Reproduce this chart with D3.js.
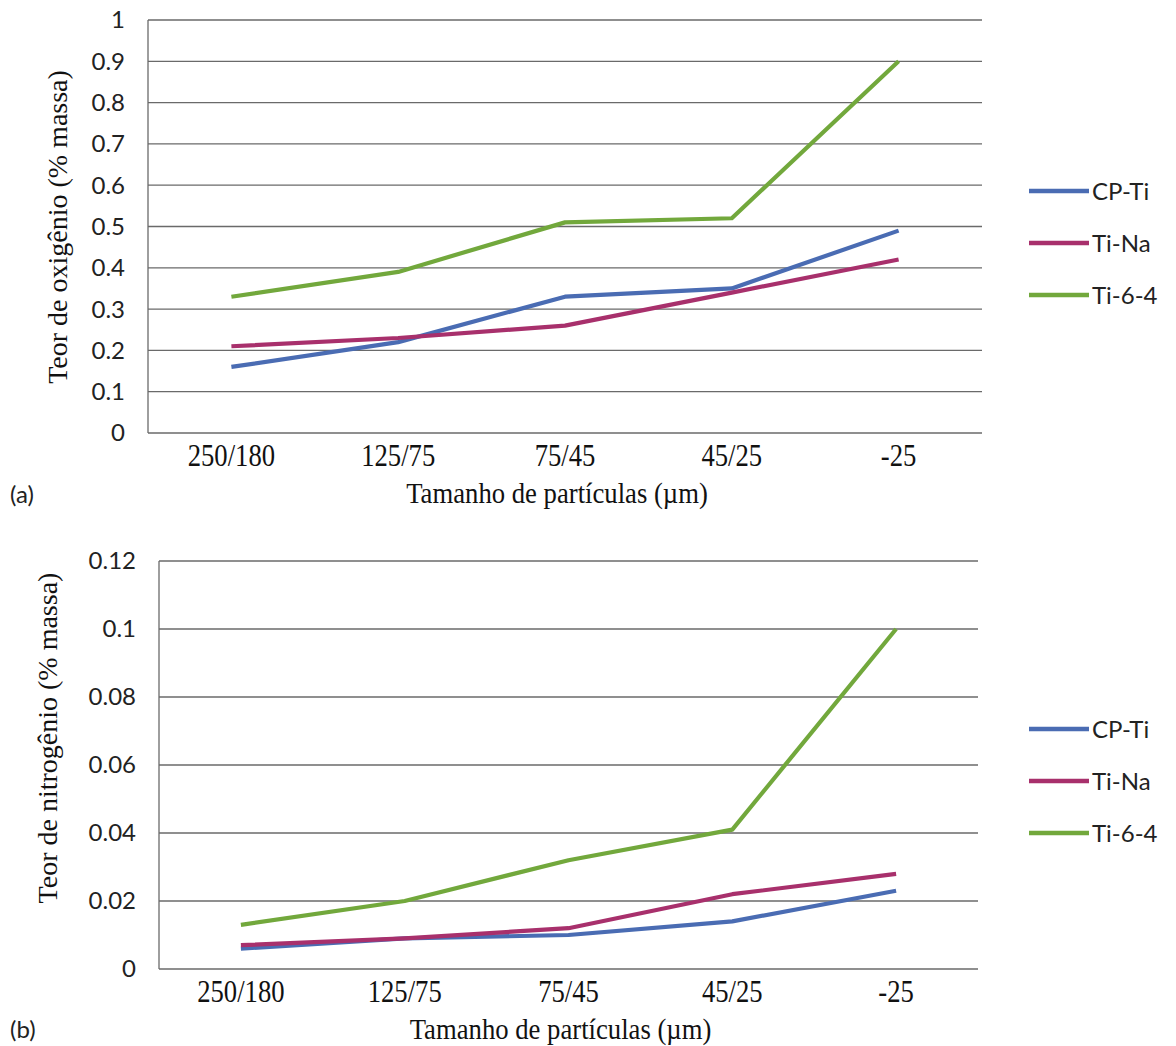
<!DOCTYPE html>
<html>
<head>
<meta charset="utf-8">
<script src="https://cdn.jsdelivr.net/npm/d3@7"></script>
<style>
  body { margin: 0; background: #fff; }
  svg { display: block; }
</style>
</head>
<body>
<svg id="chart" width="1176" height="1046"></svg>
<script>
// Particle size classes (µm)
const categories = ["250/180", "125/75", "75/45", "45/25", "-25"];

// Series
const seriesNames = ["CP-Ti", "Ti-Na", "Ti-6-4"];
const seriesColors = ["#4a6cb3", "#a8306c", "#72a83c"];

// (a) oxygen content, % mass
const oxygenCPTi = [0.16, 0.22, 0.33, 0.35, 0.49];
const oxygenTiNa = [0.21, 0.23, 0.26, 0.34, 0.42];
const oxygenTi64 = [0.33, 0.39, 0.51, 0.52, 0.90];

// (b) nitrogen content, % mass
const nitrogenCPTi = [0.006, 0.009, 0.010, 0.014, 0.023];
const nitrogenTiNa = [0.007, 0.009, 0.012, 0.022, 0.028];
const nitrogenTi64 = [0.013, 0.020, 0.032, 0.041, 0.100];

// Y-axis ticks
const oxygenTicks = [0, 0.1, 0.2, 0.3, 0.4, 0.5, 0.6, 0.7, 0.8, 0.9, 1];
const oxygenTickLabels = ["0", "0.1", "0.2", "0.3", "0.4", "0.5", "0.6", "0.7", "0.8", "0.9", "1"];
const nitrogenTicks = [0, 0.02, 0.04, 0.06, 0.08, 0.1, 0.12];
const nitrogenTickLabels = ["0", "0.02", "0.04", "0.06", "0.08", "0.1", "0.12"];

const svg = d3.select("#chart");
const sansFont = "Lato, 'Open Sans', sans-serif";
const serifFont = "'Liberation Serif', 'DejaVu Serif', serif";

function drawPanel(cfg) {
  const g = svg.append("g");
  const x = d3.scaleBand().domain(categories).range([cfg.left, cfg.right]);
  const y = d3.scaleLinear().domain([0, cfg.ticks[cfg.ticks.length - 1]]).range([cfg.bottom, cfg.top]);
  const cx = c => x(c) + x.bandwidth() / 2;

  // horizontal gridlines
  g.append("g").selectAll("line").data(cfg.ticks).join("line")
    .attr("x1", cfg.left).attr("x2", cfg.right)
    .attr("y1", d => y(d)).attr("y2", d => y(d))
    .attr("stroke", "#6a6a6a").attr("stroke-width", 1.3);

  // vertical axis line
  g.append("line")
    .attr("x1", cfg.left).attr("x2", cfg.left)
    .attr("y1", cfg.top).attr("y2", cfg.bottom)
    .attr("stroke", "#6a6a6a").attr("stroke-width", 1.3);

  // y tick labels
  g.append("g").selectAll("text").data(cfg.ticks).join("text")
    .attr("x", cfg.left - 23).attr("y", d => y(d))
    .attr("dy", "0.35em")
    .attr("text-anchor", "end")
    .attr("font-family", sansFont).attr("font-size", 24).attr("fill", "#222")
    .text((d, i) => cfg.tickLabels[i]);

  // x tick labels
  g.append("g").selectAll("text").data(categories).join("text")
    .attr("transform", d => `translate(${cx(d)},${cfg.bottom + 33}) scale(0.86,1)`)
    .attr("text-anchor", "middle")
    .attr("font-family", serifFont).attr("font-size", 31).attr("fill", "#111")
    .text(d => d);

  // axis titles
  g.append("text")
    .attr("transform", `translate(${(cfg.left + cfg.right) / 2 - 8},${cfg.bottom + 70}) scale(0.92,1)`)
    .attr("text-anchor", "middle")
    .attr("font-family", serifFont).attr("font-size", 29).attr("fill", "#111")
    .text("Tamanho de partículas (µm)");

  g.append("text")
    .attr("transform", `translate(${cfg.yTitleX},${cfg.yTitleY}) rotate(-90)`)
    .attr("text-anchor", "middle")
    .attr("font-family", serifFont).attr("font-size", 28).attr("fill", "#111")
    .text(cfg.yTitle);

  // panel letter
  g.append("text")
    .attr("x", 10).attr("y", cfg.letterY)
    .attr("font-family", sansFont).attr("font-size", 24).attr("fill", "#222")
    .text(cfg.letter);

  // series lines
  const line = d3.line().x((d, i) => cx(categories[i])).y(d => y(d));
  cfg.series.forEach((vals, k) => {
    g.append("path")
      .datum(vals)
      .attr("d", line)
      .attr("fill", "none")
      .attr("stroke", seriesColors[k])
      .attr("stroke-width", 4.2)
      .attr("stroke-linejoin", "round");
  });

  // legend
  const lg = g.append("g");
  seriesNames.forEach((name, k) => {
    const ly = cfg.legendY + k * 52;
    lg.append("line")
      .attr("x1", 1029).attr("x2", 1089).attr("y1", ly).attr("y2", ly)
      .attr("stroke", seriesColors[k]).attr("stroke-width", 4.5);
    lg.append("text")
      .attr("x", 1092).attr("y", ly).attr("dy", "0.36em")
      .attr("font-family", sansFont).attr("font-size", 24).attr("fill", "#222")
      .text(name);
  });
}

drawPanel({
  left: 148, right: 982, top: 20, bottom: 433,
  ticks: oxygenTicks, tickLabels: oxygenTickLabels,
  series: [oxygenCPTi, oxygenTiNa, oxygenTi64],
  yTitle: "Teor de oxigênio (% massa)", yTitleX: 67, yTitleY: 227,
  letter: "(a)", letterY: 503,
  legendY: 191
});

drawPanel({
  left: 159, right: 978, top: 561, bottom: 969,
  ticks: nitrogenTicks, tickLabels: nitrogenTickLabels,
  series: [nitrogenCPTi, nitrogenTiNa, nitrogenTi64],
  yTitle: "Teor de nitrogênio (% massa)", yTitleX: 57, yTitleY: 738,
  letter: "(b)", letterY: 1038,
  legendY: 729
});
</script>
</body>
</html>
